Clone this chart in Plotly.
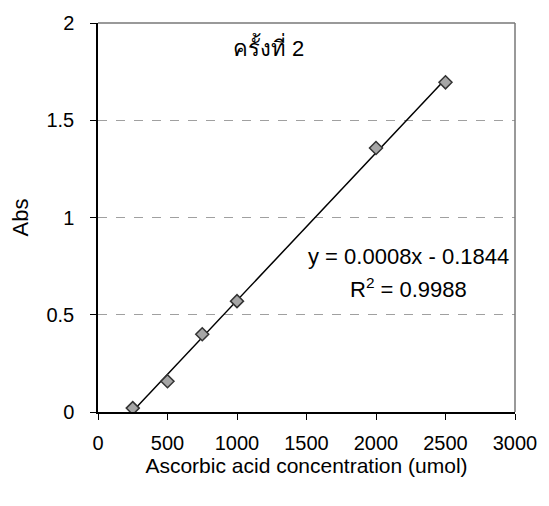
import numpy as np
import plotly.graph_objects as go

# Standard curve, run 2: ascorbic acid concentration vs absorbance
concentration = [250, 500, 750, 1000, 2000, 2500]
absorbance = [0.02, 0.158, 0.40, 0.57, 1.357, 1.695]

x_ticks = [0, 500, 1000, 1500, 2000, 2500, 3000]
y_ticks = [0, 0.5, 1, 1.5, 2]
y_tick_text = ["0", "0.5", "1", "1.5", "2"]

# Linear trendline fitted to the measured points
slope, intercept = np.polyfit(concentration, absorbance, 1)
fit_x = [min(concentration), max(concentration)]
fit_y = [slope * v + intercept for v in fit_x]

FONT = "Liberation Sans, Arial, Noto Sans, sans-serif"

fig = go.Figure()
fig.add_trace(go.Scatter(
    x=fit_x, y=fit_y, mode="lines",
    line=dict(color="black", width=1.5),
    hoverinfo="skip", showlegend=False,
))
fig.add_trace(go.Scatter(
    x=concentration, y=absorbance, mode="markers",
    marker=dict(symbol="diamond", size=10, color="#a6a6a6",
                line=dict(color="#333333", width=1.5)),
    showlegend=False,
))

fig.update_layout(
    width=549, height=506,
    margin=dict(l=98, r=28, t=20, b=94),
    paper_bgcolor="white", plot_bgcolor="white",
    font=dict(family=FONT, size=20, color="black"),
    xaxis=dict(
        range=[0, 3000], tickvals=x_ticks, ticks="outside", ticklen=6,
        tickcolor="black", showgrid=False, zeroline=False,
        showline=True, linecolor="black", linewidth=1.5,
        ticklabelstandoff=6,
        title=dict(text="Ascorbic acid concentration (umol)", standoff=6,
                   font=dict(size=21)),
        tickfont=dict(size=20),
    ),
    yaxis=dict(
        range=[0, 2], tickvals=y_ticks, ticktext=y_tick_text,
        ticks="outside", ticklen=6, tickcolor="black",
        showgrid=True, gridcolor="#a0a0a0", griddash="dash", gridwidth=1,
        zeroline=False, showline=True, linecolor="black", linewidth=1.5,
        ticklabelstandoff=12,
        title=dict(text="Abs", standoff=12, font=dict(size=22)),
        tickfont=dict(size=20),
    ),
    shapes=[
        dict(type="line", xref="paper", yref="paper", x0=0, x1=1, y0=1, y1=1,
             line=dict(color="#777777", width=1.5)),
        dict(type="line", xref="paper", yref="paper", x0=1, x1=1, y0=0, y1=1,
             line=dict(color="#777777", width=1.5)),
    ],
    annotations=[
        dict(text="ครั้งที่ 2", xref="paper", yref="paper", x=0.41, y=0.938,
             xanchor="center", yanchor="middle",
             showarrow=False, font=dict(size=22, family=FONT)),
        dict(text="y = 0.0008x - 0.1844", xref="paper", yref="paper",
             x=0.745, y=0.40, xanchor="center", yanchor="middle",
             showarrow=False, font=dict(size=22)),
        dict(text="R<sup>2</sup> = 0.9988", xref="paper", yref="paper",
             x=0.745, y=0.318, xanchor="center", yanchor="middle",
             showarrow=False, font=dict(size=22)),
    ],
)

fig.write_html("out.html")
